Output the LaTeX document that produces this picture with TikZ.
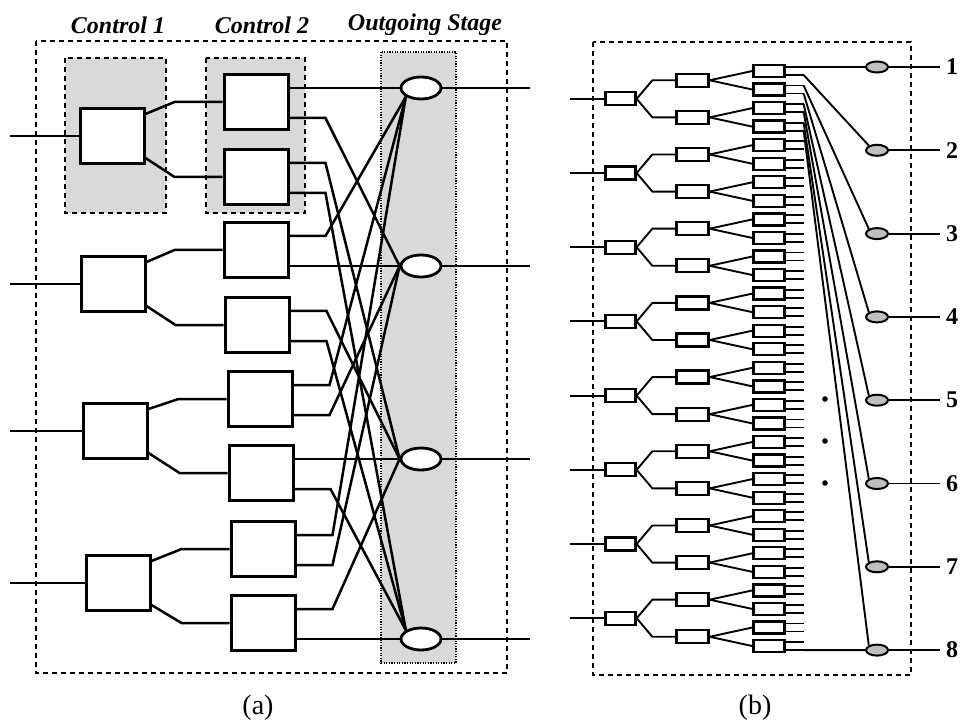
\documentclass[tikz,border=0pt]{standalone}
\usepackage{fontspec}
\setmainfont{Liberation Serif}
\usetikzlibrary{calc,shapes.geometric}

\tikzset{
  frame/.style={line width=2.2pt, dash pattern=on 5pt off 4pt},
  dotframe/.style={line width=2pt, dash pattern=on 1.2pt off 1.4pt},
  swbox/.style={draw, line width=3pt, fill=white, minimum width=64pt, minimum height=55pt, inner sep=0pt},
  combine/.style={draw, ellipse, line width=2.8pt, fill=white, minimum width=40pt, minimum height=22pt, inner sep=0pt},
  wire/.style={line width=2.5pt},
  tbox/.style={draw, line width=2.3pt, fill=white, minimum width=31pt, minimum height=12pt, inner sep=0pt},
  tap/.style={draw, ellipse, line width=2pt, fill=black!25, minimum width=22pt, minimum height=11pt, inner sep=0pt},
  thinwire/.style={line width=1.9pt},
  title/.style={font=\fontsize{24}{26}\selectfont\bfseries\itshape},
  num/.style={font=\fontsize{24}{26}\selectfont\bfseries, inner sep=0pt},
  caption/.style={font=\fontsize{28}{30}\selectfont}
}

\begin{document}
\begin{tikzpicture}[x=1pt, y=-1pt]
	\useasboundingbox (0,0) rectangle (961,727);

	% (a) frames
	\draw[frame, fill=black!15] (65,58) rectangle (166,213);
	\draw[frame, fill=black!15] (206,58) rectangle (305,213);
	\draw[dotframe, fill=black!15] (381,52) rectangle (456,663);
	\draw[frame] (36,41) rectangle (507,673);
	\node[title] (lab1) at (118,25) {Control 1};
	\node[title] (lab2) at (262,25) {Control 2};
	\node[title] (lab3) at (425,25) {Outgoing Stage};

	% (a) control 1
	\node[swbox] (p1) at (112,136) {};
	\node[swbox] (p2) at (113,284) {};
	\node[swbox] (p3) at (115,431) {};
	\node[swbox] (p4) at (118,583) {};
	% (a) control 2
	\node[swbox] (q1) at (256,102) {};
	\node[swbox] (q2) at (256,177) {};
	\node[swbox] (q3) at (256,250) {};
	\node[swbox] (q4) at (257,325) {};
	\node[swbox] (q5) at (260,399) {};
	\node[swbox] (q6) at (261,473) {};
	\node[swbox] (q7) at (263,549) {};
	\node[swbox] (q8) at (263,623) {};
	% (a) outgoing stage
	\node[combine] (e1) at (421,88) {};
	\node[combine] (e2) at (421,266) {};
	\node[combine] (e3) at (421,459) {};
	\node[combine] (e4) at (421,639) {};

	\coordinate (ain1) at (10,136);
	\coordinate (ain2) at (10,284);
	\coordinate (ain3) at (10,431);
	\coordinate (ain4) at (10,583);
	\coordinate (aout1) at (530,88);
	\coordinate (aout2) at (530,266);
	\coordinate (aout3) at (530,459);
	\coordinate (aout4) at (530,639);

	\foreach \i in {1,...,4} {
		\draw[wire] (ain\i) -- (p\i.west);
		\draw[wire] (e\i.east) -- (aout\i);
	}

	% splitting into control 2
	\draw[wire] ($(p1.east)+(0,-22)$) -- ($(q1.west)+(-48,0)$) -- (q1.west);
	\draw[wire] ($(p1.east)+(0,22)$) -- ($(q2.west)+(-48,0)$) -- (q2.west);
	\draw[wire] ($(p2.east)+(0,-22)$) -- ($(q3.west)+(-48,0)$) -- (q3.west);
	\draw[wire] ($(p2.east)+(0,22)$) -- ($(q4.west)+(-48,0)$) -- (q4.west);
	\draw[wire] ($(p3.east)+(0,-22)$) -- ($(q5.west)+(-48,0)$) -- (q5.west);
	\draw[wire] ($(p3.east)+(0,22)$) -- ($(q6.west)+(-48,0)$) -- (q6.west);
	\draw[wire] ($(p4.east)+(0,-22)$) -- ($(q7.west)+(-48,0)$) -- (q7.west);
	\draw[wire] ($(p4.east)+(0,22)$) -- ($(q8.west)+(-48,0)$) -- (q8.west);

	% crossing to the outgoing stage
	\draw[wire] ($(q1.east)+(0,-14)$) -- (e1.west);
	\draw[wire] ($(q1.east)+(0,16)$) -- ++(36,0) -- (e2.west);
	\draw[wire] ($(q2.east)+(0,-14)$) -- ++(36,0) -- (e3.west);
	\draw[wire] ($(q2.east)+(0,16)$) -- ++(36,0) -- (e4.150);
	\draw[wire] ($(q3.east)+(0,-14)$) -- ++(36,0) -- (e1.210);
	\draw[wire] ($(q3.east)+(0,16)$) -- (e2.west);
	\draw[wire] ($(q4.east)+(0,-14)$) -- ++(36,0) -- (e3.west);
	\draw[wire] ($(q4.east)+(0,16)$) -- ++(36,0) -- (e4.150);
	\draw[wire] ($(q5.east)+(0,-14)$) -- ++(36,0) -- (e1.210);
	\draw[wire] ($(q5.east)+(0,16)$) -- ++(36,0) -- (e2.west);
	\draw[wire] ($(q6.east)+(0,-14)$) -- (e3.west);
	\draw[wire] ($(q6.east)+(0,16)$) -- ++(36,0) -- (e4.150);
	\draw[wire] ($(q7.east)+(0,-14)$) -- ++(36,0) -- (e1.210);
	\draw[wire] ($(q7.east)+(0,16)$) -- ++(36,0) -- (e2.west);
	\draw[wire] ($(q8.east)+(0,-14)$) -- ++(36,0) -- (e3.west);
	\draw[wire] ($(q8.east)+(0,16)$) -- (e4.west);

	\node[caption] (capa) at (258,708) {(a)};

	% (b)
	\draw[frame, line width=2pt] (593,42) rectangle (911,675);

	\foreach \k in {0,...,31} {
		\node[tbox] (t\k) at (769,{71+18.55*\k}) {};
		\draw[thinwire] ($(t\k.east)+(0,-4)$) -- ++(18,0);
		\draw[thinwire] ($(t\k.east)+(0,4)$) -- ++(18,0);
	}
	\foreach \m in {0,...,15} {
		\pgfmathtruncatemacro\ka{2*\m}
		\pgfmathtruncatemacro\kb{2*\m+1}
		\node[tbox, minimum width=32pt, minimum height=13pt] (u\m) at (692.5,{71+18.55*(2*\m+0.5)}) {};
		\draw[thinwire] (u\m.east) -- (t\ka.west);
		\draw[thinwire] (u\m.east) -- (t\kb.west);
	}
	\foreach \g in {0,...,7} {
		\pgfmathtruncatemacro\ma{2*\g}
		\pgfmathtruncatemacro\mb{2*\g+1}
		\node[tbox, minimum width=30pt, minimum height=13pt] (r\g) at (620.5,{71+18.55*(4*\g+1.5)}) {};
		\coordinate (bin\g) at (570,{71+18.55*(4*\g+1.5)});
		\draw[thinwire] (bin\g) -- (r\g.west);
		\draw[thinwire] (r\g.east) -- ($(u\ma.west)+(-23,0)$) -- (u\ma.west);
		\draw[thinwire] (r\g.east) -- ($(u\mb.west)+(-23,0)$) -- (u\mb.west);
	}
	\foreach \i in {1,...,8} {
		\node[tap] (v\i) at (877,{67+83.3*(\i-1)}) {};
		\coordinate (bout\i) at (940,{67+83.3*(\i-1)});
		\draw[thinwire] (v\i.east) -- (bout\i);
		\node[num] (n\i) at (952,{67+83.3*(\i-1)}) {\i};
	}

	% fan-out of the first input
	\draw[thinwire] ($(t0.east)+(18,-4)$) -- (v1.west);
	\foreach \k/\dy/\i in {0/4/2,1/-4/3,1/4/4,2/-4/5,2/4/6,3/-4/7,3/4/8}
		\draw[thinwire] ($(t\k.east)+(18,\dy)$) -- (v\i.150);
	\draw[thinwire] ($(t31.east)+(18,4)$) -- (v8.west);

	\fill (825,399) circle (2.8pt);
	\fill (825,441) circle (2.8pt);
	\fill (825,483) circle (2.8pt);

	\node[caption] (capb) at (755,708) {(b)};
\end{tikzpicture}
\end{document}
